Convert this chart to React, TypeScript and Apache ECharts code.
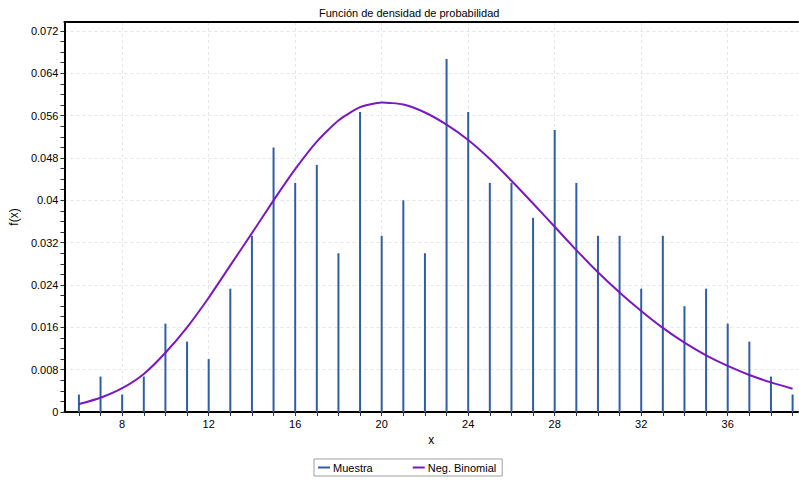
import React, { useEffect, useRef } from "react";
import * as echarts from "echarts";

const TITLE = "Función de densidad de probabilidad";
const X_VALUES = [6, 7, 8, 9, 10, 11, 12, 13, 14, 15, 16, 17, 18, 19, 20, 21, 22, 23, 24, 25, 26, 27, 28, 29, 30, 31, 32, 33, 34, 35, 36, 37, 38, 39];
const MUESTRA = [0.0033, 0.0067, 0.0033, 0.0067, 0.0167, 0.0133, 0.01, 0.0233, 0.0333, 0.05, 0.0433, 0.0467, 0.03, 0.0567, 0.0333, 0.04, 0.03, 0.0667, 0.0567, 0.0433, 0.0433, 0.0367, 0.0533, 0.0433, 0.0333, 0.0333, 0.0233, 0.0333, 0.02, 0.0233, 0.0167, 0.0133, 0.0067, 0.0033];
const NEG_BINOMIAL = [0.0015, 0.0027, 0.0045, 0.0072, 0.0112, 0.016, 0.0216, 0.0277, 0.0338, 0.04, 0.0459, 0.0511, 0.0551, 0.0576, 0.0585, 0.0581, 0.0566, 0.0543, 0.0514, 0.0478, 0.0437, 0.0394, 0.035, 0.0306, 0.0264, 0.0226, 0.0191, 0.0159, 0.0131, 0.0107, 0.0087, 0.007, 0.0056, 0.0044];
const X_LABELS = [8, 12, 16, 20, 24, 28, 32, 36];
const Y_LABELS = [0, 0.008, 0.016, 0.024, 0.032, 0.04, 0.048, 0.056, 0.064, 0.072];
const Y_MINOR = [0, 0.002, 0.004, 0.006, 0.008, 0.01, 0.012, 0.014, 0.016, 0.018, 0.02, 0.022, 0.024, 0.026, 0.028, 0.03, 0.032, 0.034, 0.036, 0.038, 0.04, 0.042, 0.044, 0.046, 0.048, 0.05, 0.052, 0.054, 0.056, 0.058, 0.06, 0.062, 0.064, 0.066, 0.068, 0.07, 0.072];

const X_MIN = 5.33;
const X_MAX = 39.25;
const Y_MAX = 0.0737;

const FONT = "Liberation Sans, Arial, sans-serif";

export default function App() {
  const ref = useRef<HTMLDivElement>(null);
  useEffect(() => {
    if (!ref.current) return;
    const chart = echarts.init(ref.current, null, { renderer: "svg" });
    const gridLine = { show: true, lineStyle: { color: "#e6e6e6", type: [3, 3] as any, width: 1 } };
    chart.setOption({
      animation: false,
      backgroundColor: "#ffffff",
      textStyle: { fontFamily: FONT },
      title: {
        text: TITLE,
        left: 314,
        top: 2,
        textStyle: { fontSize: 11, fontWeight: "normal", color: "#000", fontFamily: FONT },
      },
      grid: { left: 62, right: 1, top: 22, bottom: 68, containLabel: false },
      legend: {
        bottom: 4,
        left: 314,
        orient: "horizontal",
        data: ["Muestra", "Neg. Binomial"],
        icon: "rect",
        itemWidth: 12,
        itemHeight: 2,
        itemGap: 40,
        borderColor: "#a0a0a0",
        borderWidth: 1,
        borderRadius: 0,
        padding: [3, 6, 3, 4],
        textStyle: { fontSize: 11, color: "#000", fontFamily: FONT, padding: [0, 0, 0, -2] },
      },
      xAxis: [
        {
          type: "value",
          min: X_MIN,
          max: X_MAX,
          name: "x",
          nameLocation: "middle",
          nameGap: 21,
          nameTextStyle: { fontSize: 12, color: "#000" },
          axisLine: { show: true, onZero: false, lineStyle: { color: "#000", width: 2 } },
          axisTick: { show: true, length: 4, customValues: X_VALUES, lineStyle: { color: "#333" } },
          axisLabel: { show: true, customValues: X_LABELS, fontSize: 11, color: "#000", margin: 6 },
          splitLine: { show: false },
        },
        {
          type: "value",
          position: "top",
          min: X_MIN,
          max: X_MAX,
          axisLine: { show: true, onZero: false, lineStyle: { color: "#000", width: 2 } },
          axisTick: { show: false, customValues: X_LABELS },
          axisLabel: { show: false },
          splitLine: gridLine,
        },
      ],
      yAxis: [
        {
          type: "value",
          min: 0,
          max: Y_MAX,
          name: "f(x)",
          nameLocation: "middle",
          nameGap: 37,
          nameRotate: 90,
          nameTextStyle: { fontSize: 12, color: "#000" },
          axisLine: { show: true, onZero: false, lineStyle: { color: "#000", width: 2 } },
          axisTick: { show: true, length: 4, customValues: Y_MINOR, lineStyle: { color: "#333" } },
          axisLabel: {
            show: true,
            customValues: Y_LABELS,
            fontSize: 11,
            color: "#000",
            margin: 6,
            formatter: (v: number) => String(Number(v.toFixed(4))),
          },
          splitLine: { show: false },
        },
        {
          type: "value",
          min: 0,
          max: Y_MAX,
          position: "left",
          axisLine: { show: false },
          axisTick: { show: false, customValues: Y_LABELS.slice(1) },
          axisLabel: { show: false },
          splitLine: gridLine,
        },
      ],
      series: [
        {
          name: "Muestra",
          type: "bar",
          xAxisIndex: 0,
          yAxisIndex: 0,
          barWidth: 2,
          itemStyle: { color: "#2f5ea8" },
          data: X_VALUES.map((x, i) => [x, MUESTRA[i]]),
          z: 2,
        },
        {
          name: "Neg. Binomial",
          type: "line",
          xAxisIndex: 0,
          yAxisIndex: 0,
          showSymbol: false,
          symbol: "none",
          smooth: 0.2,
          lineStyle: { color: "#7a18c2", width: 2 },
          itemStyle: { color: "#7a18c2" },
          data: X_VALUES.map((x, i) => [x, NEG_BINOMIAL[i]]),
          z: 3,
        },
      ],
    });
    return () => chart.dispose();
  }, []);
  return <div ref={ref} style={{ width: 799, height: 480, position: "absolute", left: 0, top: 0 }} />;
}
